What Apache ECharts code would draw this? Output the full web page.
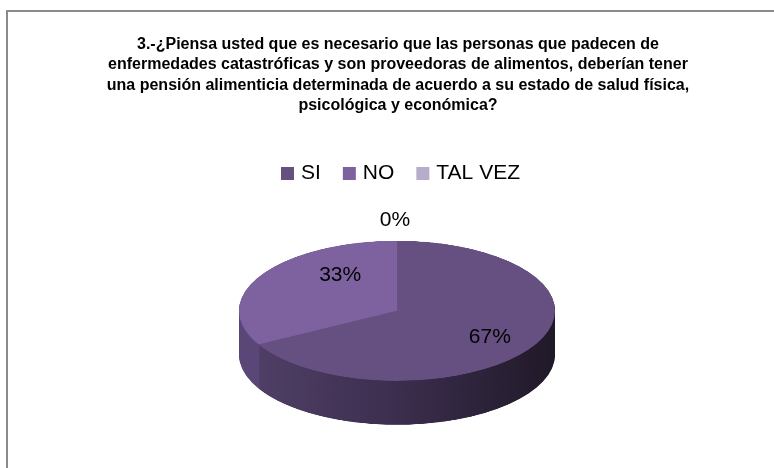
<!DOCTYPE html>
<html>
<head>
<meta charset="utf-8">
<script src="https://cdn.jsdelivr.net/npm/echarts@6/dist/echarts.min.js"></script>
<style>
  html, body { margin: 0; padding: 0; background: #fff; }
  #main { position: absolute; left: 0; top: 0; width: 774px; height: 468px; z-index: 2; }
  #disc { position: absolute; z-index: 1; }
</style>
</head>
<body>
<div id="disc"></div>
<div id="main"></div>
<script>
var categories = ['SI', 'NO', 'TAL VEZ'];
var percents = [67, 33, 0];
var topColors = ['#664f81', '#7e62a0', '#b7adcb'];
var titleText = '3.-¿Piensa usted que es necesario que las personas que padecen de\n' +
  'enfermedades catastróficas y son proveedoras de alimentos, deberían tener\n' +
  'una pensión alimenticia determinada de acuerdo a su estado de salud física,\n' +
  'psicológica y económica?';

var FONT = '"Liberation Sans", Arial, sans-serif';

// pie geometry on the page (ellipse = circle squashed vertically)
var CX = 397, CY = 311, R = 158, RY = 70, DEPTH = 44;
var s = RY / R;
var W = 2 * R + 8;
var D = DEPTH / s;

var pieData = categories.map(function (c, i) {
  return { name: c, value: percents[i] };
});

// side (thickness) colours
function sideColor(i) {
  if (i === 0) {
    return new echarts.graphic.LinearGradient(0, 0, 1, 0, [
      { offset: 0, color: '#4f3f66' },
      { offset: 0.5, color: '#3a2d4c' },
      { offset: 1, color: '#201928' }
    ]);
  }
  if (i === 1) return '#5b4878';
  return '#8f84a6';
}

var discEl = document.getElementById('disc');
discEl.style.width = W + 'px';
discEl.style.height = Math.ceil(W + D + 4) + 'px';
discEl.style.left = (CX - W / 2) + 'px';
discEl.style.top = (CY - (W / 2) * s) + 'px';
discEl.style.transformOrigin = '0 0';
discEl.style.transform = 'scaleY(' + s + ')';

var discSeries = [];
for (var off = D; off > 0; off -= 3) {
  discSeries.push({
    type: 'pie',
    silent: true,
    animation: false,
    radius: [0, R],
    center: [W / 2, W / 2 + off],
    label: { show: false },
    labelLine: { show: false },
    itemStyle: { borderWidth: 0 },
    data: pieData.map(function (d, i) {
      return { name: d.name, value: d.value, itemStyle: { color: sideColor(i) } };
    })
  });
}
discSeries.push({
  type: 'pie',
  silent: true,
  animation: false,
  radius: [0, R],
  center: [W / 2, W / 2],
  label: { show: false },
  labelLine: { show: false },
  itemStyle: { borderWidth: 0 },
  data: pieData.map(function (d, i) {
    return { name: d.name, value: d.value, itemStyle: { color: topColors[i] } };
  })
});

var disc = echarts.init(discEl, null, { renderer: 'canvas' });
disc.setOption({ animation: false, series: discSeries });

// label positions on the ellipse (rough perspective)
var total = percents.reduce(function (a, b) { return a + b; }, 0);
function labelPos(idx) {
  var cum = 0;
  for (var i = 0; i < idx; i++) cum += percents[i];
  var mid = (cum + percents[idx] / 2) / total * Math.PI * 2;
  if (percents[idx] === 0) {
    return { x: CX - 2, y: CY - RY - 21 };
  }
  return {
    x: CX + 18 + 0.55 * R * Math.sin(mid),
    y: CY - 5 - 0.87 * RY * Math.cos(mid)
  };
}

var main = echarts.init(document.getElementById('main'), null, { renderer: 'canvas' });
main.setOption({
  animation: false,
  backgroundColor: 'transparent',
  graphic: [{
    type: 'rect',
    shape: { x: 7, y: 11, width: 820, height: 520 },
    style: { fill: 'none', stroke: '#8a8a8a', lineWidth: 2 },
    silent: true
  }],
  title: {
    text: titleText,
    left: 393,
    top: 29,
    textAlign: 'center',
    textStyle: {
      fontFamily: FONT,
      fontSize: 16,
      fontWeight: 'bold',
      color: '#000',
      lineHeight: 20.5
    }
  },
  legend: {
    top: 158,
    left: 276,
    icon: 'rect',
    itemWidth: 13,
    itemHeight: 13,
    itemGap: 22,
    selectedMode: false,
    textStyle: { fontFamily: FONT, fontSize: 21, color: '#000', padding: [0, 0, 0, 2] },
    data: categories.map(function (c, i) {
      return { name: c, itemStyle: { color: topColors[i], opacity: 1 } };
    })
  },
  series: [{
    type: 'pie',
    silent: true,
    radius: [0, 60],
    center: [CX, CY],
    itemStyle: { color: 'rgba(0,0,0,0)', borderWidth: 0 },
    labelLine: { show: false },
    label: {
      show: true,
      position: 'inside',
      fontFamily: FONT,
      fontSize: 21,
      color: '#000',
      formatter: function (p) { return p.value + '%'; }
    },
    labelLayout: function (p) {
      var pos = labelPos(p.dataIndex);
      return { x: pos.x, y: pos.y, align: 'center', verticalAlign: 'middle' };
    },
    data: pieData
  }]
});
</script>
</body>
</html>
